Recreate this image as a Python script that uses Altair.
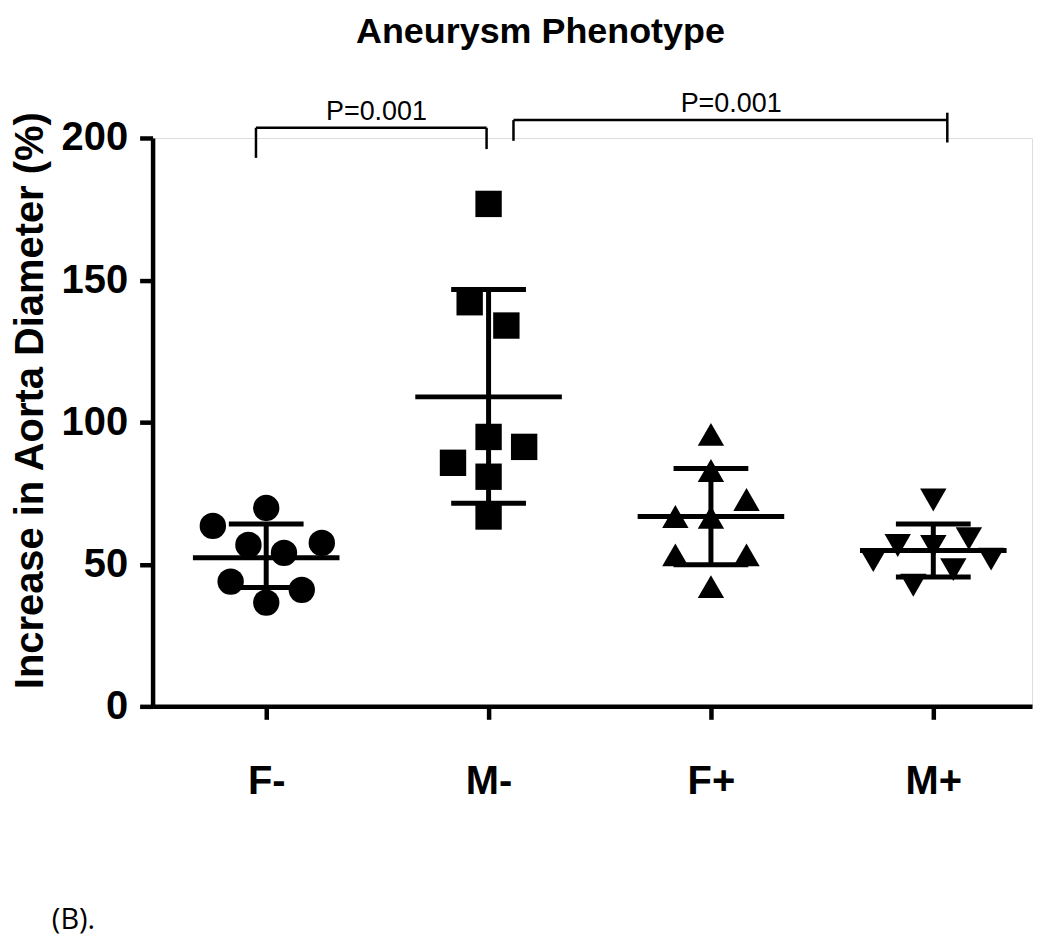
import json
import altair as alt
import pandas as pd

# ---------------- data ----------------
categories = ["F-", "M-", "F+", "M+"]
shapes = ["circle", "square", "triangle-up", "triangle-down"]

f_minus = [69.8, 63.5, 56.8, 57.5, 54.0, 43.9, 41.0, 36.5]
f_minus_jitter = [0.0, -0.24, -0.08, 0.25, 0.08, -0.16, 0.16, 0.0]
m_minus = [176.8, 142.2, 134.0, 94.8, 91.3, 85.7, 80.8, 66.8]
m_minus_jitter = [0.0, -0.085, 0.08, 0.0, 0.16, -0.16, 0.0, 0.0]
f_plus = [95.7, 83.0, 72.8, 66.8, 66.5, 53.3, 53.3, 42.1]
f_plus_jitter = [0.0, 0.0, 0.16, -0.16, 0.0, -0.16, 0.16, 0.0]
m_plus = [72.6, 56.6, 56.3, 59.0, 51.3, 51.8, 48.1, 42.6]
m_plus_jitter = [0.0, -0.16, 0.0, 0.16, -0.27, 0.26, 0.09, -0.09]

means = [52.3, 108.9, 66.8, 54.8]
sd_low = [41.8, 71.5, 49.8, 45.5]
sd_high = [64.2, 146.7, 83.7, 64.2]

# significance brackets (x in category units, y in %)
bracket_x1 = [0.954, 0.954, 1.991, 2.112, 2.112, 4.063]
bracket_x2 = [1.991, 0.954, 1.991, 4.063, 2.112, 4.063]
bracket_y1 = [203.6, 203.6, 203.6, 206.3, 206.3, 208.9]
bracket_y2 = [203.6, 193.0, 196.1, 206.3, 199.0, 198.4]
p_labels = ["P=0.001", "P=0.001"]
p_x = [1.496, 3.091]
p_y = [206.2, 209.2]

# ---------------- tables ----------------
groups = [f_minus, m_minus, f_plus, m_plus]
jitters = [f_minus_jitter, m_minus_jitter, f_plus_jitter, m_plus_jitter]
rows = []
for i, (cat, vals, jit) in enumerate(zip(categories, groups, jitters)):
    for v, j in zip(vals, jit):
        rows.append({"group": cat, "idx": i + 1, "jitter": j, "value": v})
pts = pd.DataFrame(rows)

summ = pd.DataFrame({
    "group": categories,
    "idx": [1, 2, 3, 4],
    "mean": means,
    "lo": sd_low,
    "hi": sd_high,
})

br = pd.DataFrame({"x1": bracket_x1, "x2": bracket_x2, "y1": bracket_y1, "y2": bracket_y2})
pl = pd.DataFrame({"label": p_labels, "x": p_x, "y": p_y})

FONT = "Liberation Sans"
label_expr = json.dumps(categories) + "[datum.value - 1]"

xscale = alt.Scale(domain=[0.489, 4.444], nice=False, zero=False)
yscale = alt.Scale(domain=[0, 200], nice=False)

x_axis = alt.Axis(
    values=[1, 2, 3, 4], labelExpr=label_expr, title=None, grid=False,
    domainWidth=4.5, domainColor="black", tickWidth=4.5, tickColor="black",
    tickSize=13, labelFont=FONT, labelFontSize=40, labelFontWeight="bold",
    labelColor="black", labelPadding=42, labelBaseline="top",
)
y_axis = alt.Axis(
    values=[0, 50, 100, 150, 200], title="Increase in Aorta Diameter (%)",
    grid=False, domainWidth=4.5, domainColor="black", tickWidth=4.5,
    tickColor="black", tickSize=13, labelFont=FONT, labelFontSize=40,
    labelFontWeight="bold", labelColor="black", labelPadding=12,
    titleFont=FONT, titleFontSize=40, titleFontWeight="bold", titleColor="black",
    titleX=-110, titleY=263, titleAngle=-90, titleAlign="center",
    titleBaseline="alphabetic",
)

points = alt.Chart(pts).transform_calculate(
    xpos="datum.idx + datum.jitter"
).mark_point(filled=True, opacity=1, size=700, color="black").encode(
    x=alt.X("xpos:Q", scale=xscale, axis=x_axis),
    y=alt.Y("value:Q", scale=yscale, axis=y_axis),
    shape=alt.Shape("group:N", scale=alt.Scale(domain=categories, range=shapes), legend=None),
)

mean_tick = alt.Chart(summ).mark_tick(orient="horizontal", size=147, thickness=5, color="black", opacity=1).encode(
    x=alt.X("idx:Q", scale=xscale), y=alt.Y("mean:Q", scale=yscale)
)
lo_tick = alt.Chart(summ).mark_tick(orient="horizontal", size=75, thickness=5, color="black", opacity=1).encode(
    x=alt.X("idx:Q", scale=xscale), y=alt.Y("lo:Q", scale=yscale)
)
hi_tick = alt.Chart(summ).mark_tick(orient="horizontal", size=75, thickness=5, color="black", opacity=1).encode(
    x=alt.X("idx:Q", scale=xscale), y=alt.Y("hi:Q", scale=yscale)
)
sd_rule = alt.Chart(summ).mark_rule(strokeWidth=5, color="black").encode(
    x=alt.X("idx:Q", scale=xscale), y=alt.Y("lo:Q", scale=yscale), y2="hi:Q"
)

brackets = alt.Chart(br).mark_rule(strokeWidth=2.5, color="black", clip=False).encode(
    x=alt.X("x1:Q", scale=xscale), x2="x2:Q",
    y=alt.Y("y1:Q", scale=yscale), y2="y2:Q",
)
ptext = alt.Chart(pl).mark_text(font=FONT, fontSize=27, color="black", baseline="alphabetic", align="center").encode(
    x=alt.X("x:Q", scale=xscale), y=alt.Y("y:Q", scale=yscale), text="label:N"
)

panel_tag = alt.Chart(pd.DataFrame({"t": ["(B)."]})).mark_text(
    font="Open Sans", fontSize=29, color="black", align="left", baseline="alphabetic"
).encode(x=alt.value(-101), y=alt.value(793), text="t:N")

chart = alt.layer(
    points, sd_rule, mean_tick, lo_tick, hi_tick, brackets, ptext, panel_tag
).properties(
    width=882, height=570,
    title=alt.TitleParams(
        "Aneurysm Phenotype", font=FONT, fontSize=36, fontWeight="bold",
        color="black", anchor="middle", dx=-52, offset=39,
    ),
    autosize=alt.AutoSizeParams(type="none"),
    padding={"left": 145, "top": 129, "right": 10, "bottom": 240},
).configure_view(stroke=None).configure(background="white")

chart.save("out.html", embed_options={"renderer": "svg", "actions": False})
